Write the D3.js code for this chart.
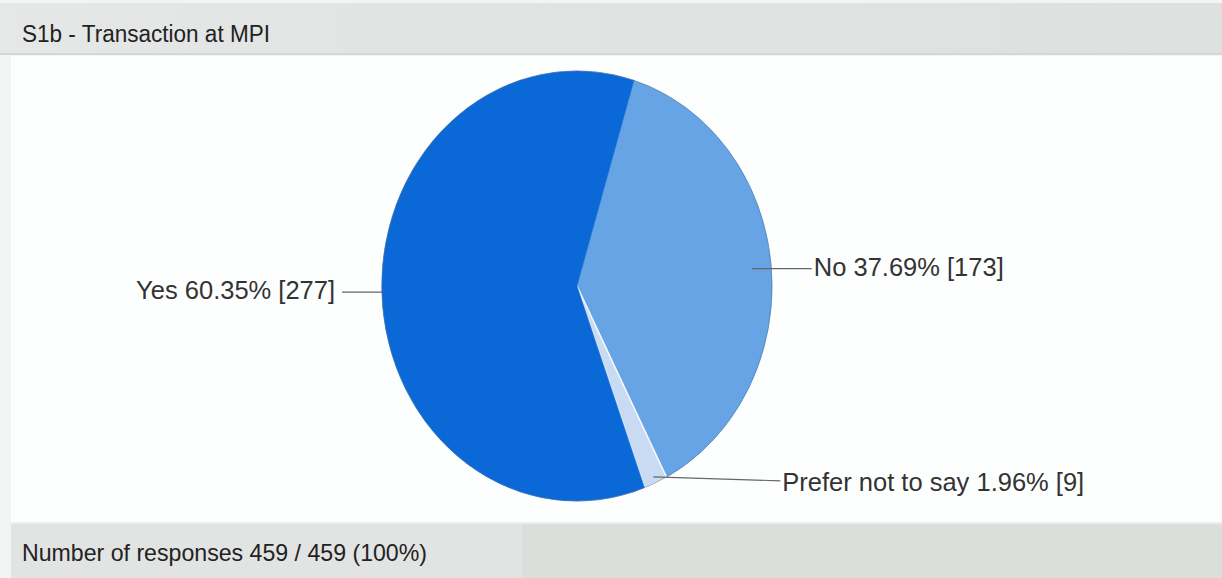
<!DOCTYPE html>
<html>
<head>
<meta charset="utf-8">
<script src="https://cdn.jsdelivr.net/npm/d3@7"></script>
<style>
  html, body { margin: 0; padding: 0; background: #ffffff; }
  svg { display: block; }
</style>
</head>
<body>
<svg id="chart" width="1222" height="578"></svg>
<script>
// Survey question S1b: answers and counts
const categories = ["Yes", "No", "Prefer not to say"];
const counts = [277, 173, 9];
const percents = [60.35, 37.69, 1.96];
const colors = ["#0a69d6", "#67a4e5", "#c9dbf2"];
const totalResponses = 459;
const totalAsked = 459;
const titleText = "S1b - Transaction at MPI";

// slices are laid out clockwise starting with "No"
const drawOrder = [1, 2, 0];

const W = 1222, H = 578;
const svg = d3.select("#chart");

// panel backgrounds
const grad = svg.append("defs").append("linearGradient")
  .attr("id", "bandGrad").attr("x1", 0).attr("x2", 1).attr("y1", 0).attr("y2", 0);
grad.append("stop").attr("offset", "0").attr("stop-color", "#e6e8e8");
grad.append("stop").attr("offset", "0.35").attr("stop-color", "#e0e4e2");
grad.append("stop").attr("offset", "1").attr("stop-color", "#dde1df");

svg.append("rect").attr("x", 0).attr("y", 0).attr("width", W).attr("height", H).attr("fill", "#f3f5f4");
svg.append("rect").attr("x", 0).attr("y", 3).attr("width", W).attr("height", 52).attr("fill", "url(#bandGrad)");
svg.append("rect").attr("x", 0).attr("y", 53).attr("width", W).attr("height", 2).attr("fill", "#d3d8d6");
svg.append("rect").attr("x", 11).attr("y", 56).attr("width", W - 11).attr("height", 468).attr("fill", "#fdfefe");
svg.append("rect").attr("x", 11).attr("y", 524).attr("width", W - 11).attr("height", 54).attr("fill", "#dadfdc");
svg.append("rect").attr("x", 11).attr("y", 524).attr("width", 511).attr("height", 54).attr("fill", "#e2e4e3");
svg.append("rect").attr("x", 11).attr("y", 522).attr("width", W - 11).attr("height", 2).attr("fill", "#eceeed");

// title and footer
svg.append("text")
  .attr("x", 22).attr("y", 42)
  .attr("font-family", "Liberation Sans, Arial, sans-serif")
  .attr("font-size", 23)
  .attr("textLength", 248).attr("lengthAdjust", "spacingAndGlyphs")
  .attr("fill", "#222")
  .text(titleText);

svg.append("text")
  .attr("x", 22).attr("y", 561)
  .attr("font-family", "Liberation Sans, Arial, sans-serif")
  .attr("font-size", 24)
  .attr("textLength", 405).attr("lengthAdjust", "spacingAndGlyphs")
  .attr("fill", "#222")
  .text(`Number of responses ${totalResponses} / ${totalAsked} (${d3.format(".0f")(totalResponses / totalAsked * 100)}%)`);

// elliptical pie
const cx = 577, cy = 286, rx = 195, ry = 215;
const startDeg = 17;
const pie = d3.pie()
  .value(i => counts[i])
  .sort(null)
  .startAngle(startDeg * Math.PI / 180)
  .endAngle((startDeg + 360) * Math.PI / 180);
const arcs = pie(drawOrder);
const arc = d3.arc().innerRadius(0).outerRadius(1);

const g = svg.append("g").attr("transform", `translate(${cx},${cy}) scale(${rx},${ry})`);
g.selectAll("path.slice")
  .data(arcs)
  .join("path")
  .attr("class", "slice")
  .attr("d", arc)
  .attr("fill", d => colors[d.data])
  .attr("stroke", d => d.data === 2 ? "#f4f8fd" : colors[d.data])
  .attr("stroke-width", d => d.data === 2 ? 1.6 : 0.5)
  .attr("vector-effect", "non-scaling-stroke");

// outline of the ellipse
g.append("ellipse")
  .attr("cx", 0).attr("cy", 0).attr("rx", 1).attr("ry", 1)
  .attr("fill", "none")
  .attr("stroke", "#4d6f99").attr("stroke-opacity", 0.55)
  .attr("stroke-width", 1)
  .attr("vector-effect", "non-scaling-stroke");

// label leaders
const pt = (a, k) => [cx + rx * k * Math.sin(a), cy - ry * k * Math.cos(a)];
const midOf = d => (d.startAngle + d.endAngle) / 2;
const byCat = {};
arcs.forEach(d => { byCat[d.data] = d; });

const fmtPct = d3.format(".2f");
const labelText = i => `${categories[i]} ${fmtPct(percents[i])}% [${counts[i]}]`;

// settings per label: depth of the anchor inside the slice, label side,
// leader length, vertical drop of the leader end, and text baseline offset
const labelSpec = [
  { i: 0, k: 1.0, side: -1, len: 40, gap: 7, drop: 0, base: 7 },
  { i: 1, k: 0.9, side: 1, len: 60, gap: 2, drop: 0, base: 7 },
  { i: 2, k: 0.97, side: 1, len: 127, gap: 2, drop: 4, base: 10 }
];

const labels = svg.append("g")
  .attr("font-family", "Liberation Sans, Arial, sans-serif")
  .attr("font-size", 25.5)
  .attr("fill", "#333");

labelSpec.forEach(s => {
  const [ax, ay] = pt(midOf(byCat[s.i]), s.k);
  const ex = ax + s.side * s.len;
  const ey = ay + s.drop;
  svg.append("line")
    .attr("x1", ax).attr("y1", ay).attr("x2", ex).attr("y2", ey)
    .attr("stroke", "#666").attr("stroke-width", 1.2);
  labels.append("text")
    .attr("x", ex + s.side * s.gap)
    .attr("y", ey + s.base)
    .attr("text-anchor", s.side < 0 ? "end" : "start")
    .text(labelText(s.i));
});
</script>
</body>
</html>
